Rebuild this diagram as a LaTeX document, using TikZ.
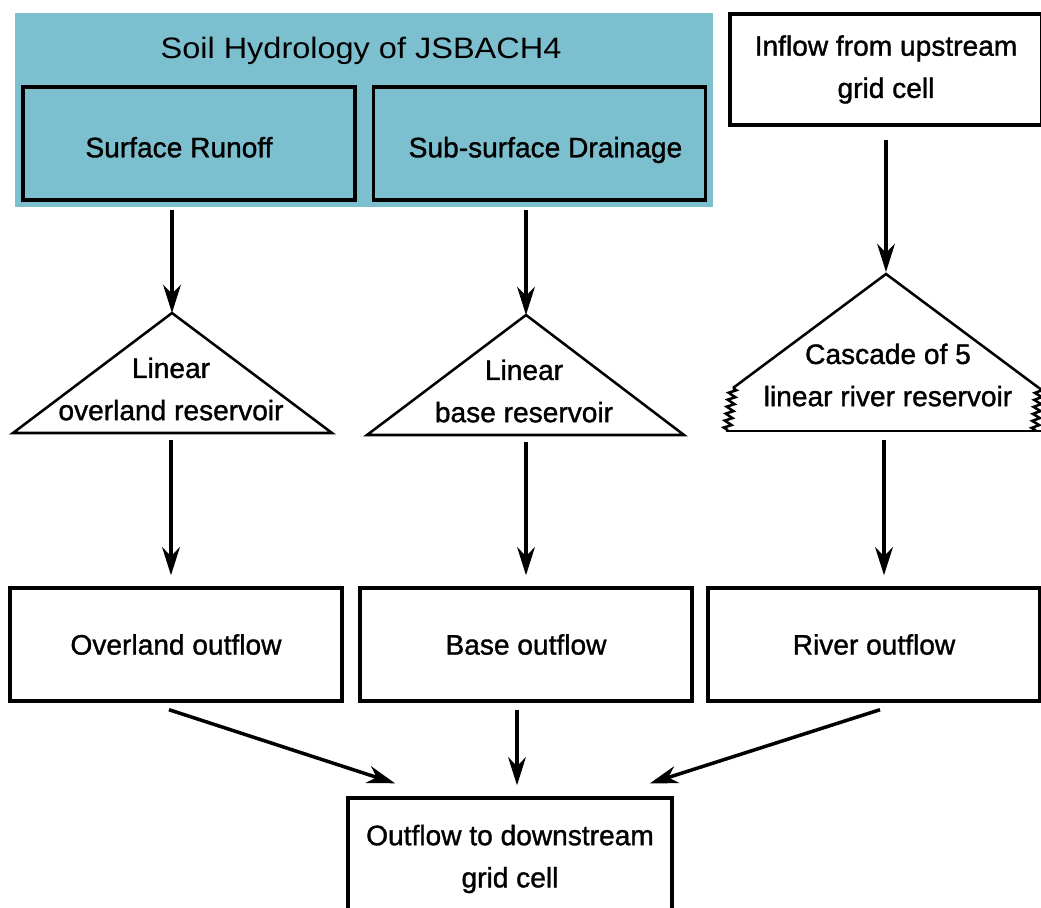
\documentclass[tikz,border=0pt]{standalone}
\usepackage{fontspec}
\setmainfont{Liberation Sans}
\newfontfamily\labelfam{Liberation Sans}[FakeBold=1.2]
\usetikzlibrary{arrows.meta,decorations.pathmorphing}

\definecolor{soilblue}{RGB}{124,191,207}
\newcommand{\labelfont}{\labelfam\fontsize{20}{30}\selectfont}
\newcommand{\titlefont}{\fontsize{21}{26}\selectfont}
\newcommand{\lowered}[1]{\raisebox{-0.09cm}[\height][0pt]{#1}}

\begin{document}
\begin{tikzpicture}[x=0.025cm, y=-0.025cm,
    box/.style={draw, line width=2.4pt, inner sep=0pt, minimum width=8.3cm,
      minimum height=2.825cm, align=center, font=\labelfont},
    soilbox/.style={box, fill=soilblue},
    tri/.style={line width=1.8pt, line join=miter},
    lbl/.style={align=center, font=\labelfont, inner sep=0pt},
    arr/.style={line width=2.5pt, -{Stealth[length=0.7cm, width=0.44cm, inset=0.22cm]}}]
  \useasboundingbox (0,0) rectangle (1041,908);

  % soil hydrology block
  \fill[soilblue] (15,13) rectangle (713,207);
  \node[font=\titlefont, anchor=base, inner sep=0pt] (title) at (361,58)
    {\scalebox{1.1}[1]{Soil Hydrology of JSBACH4}};
  \node[soilbox] (surf) at (189,143.5) {\lowered{Surface Runoff}\hspace*{0.5cm}};
  \node[soilbox] (subsurf) at (539.5,143.5) {\hspace*{0.3cm}\lowered{Sub-surface Drainage}};

  \node[box, minimum width=7.8cm, minimum height=2.775cm] (inflow) at (886,69.5)
    {Inflow from upstream\\grid cell};

  % reservoirs
  \coordinate (overtop) at (172,313);
  \coordinate (overbase) at (171,433);
  \draw[tri] (13,433) -- (overtop) -- (332,433) -- cycle;
  \node[lbl] (overres) at (171,389) {Linear\\overland reservoir};

  \coordinate (basetop) at (526,315);
  \coordinate (basebase) at (526,435);
  \draw[tri] (367,435) -- (basetop) -- (684,435) -- cycle;
  \node[lbl] (baseres) at (524,391) {Linear\\base reservoir};

  \coordinate (castop) at (886,274);
  \coordinate (casbase) at (884,431);
  \draw[tri] (733,388) -- (castop) -- (1039,388);
  \draw[tri] (726,431) -- (1041,431);
  \draw[tri, decorate, decoration={zigzag, segment length=5pt, amplitude=2.6pt}]
    (733,388) -- (727,431);
  \draw[tri, decorate, decoration={zigzag, segment length=5pt, amplitude=2.6pt}]
    (1039,388) -- (1035,431);
  \node[lbl] (casres) at (888,375) {Cascade of 5\\linear river reservoir};

  % outflows
  \node[box] (overout) at (176,644.5) {Overland outflow};
  \node[box] (baseout) at (526,644.5) {Base outflow};
  \node[box] (riverout) at (874,644.5) {River outflow};
  \node[box, minimum width=8.1cm, minimum height=3.05cm] (down) at (510,859)
    {Outflow to downstream\\grid cell};

  % connectors
  \draw[arr, shorten <=0.2cm] (surf.south -| overtop) -- (overtop);
  \draw[arr, shorten <=0.2cm] (subsurf.south -| basetop) -- (basetop);
  \draw[arr, shorten <=0.325cm, shorten >=0.05cm] (inflow.south -| castop) -- (castop);
  \draw[arr, shorten <=0.175cm, shorten >=0.275cm] (overbase) -- (overbase |- overout.north);
  \draw[arr, shorten <=0.175cm, shorten >=0.275cm] (basebase) -- (basebase |- baseout.north);
  \draw[arr, shorten <=0.225cm, shorten >=0.275cm] (casbase) -- (casbase |- riverout.north);
  \draw[arr] ([shift={(-7,7)}]overout.south) -- ([shift={(-115,-13)}]down.north);
  \draw[arr] ([shift={(-9,7)}]baseout.south) -- ([shift={(7,-11)}]down.north);
  \draw[arr] ([shift={(6,7)}]riverout.south) -- ([shift={(140,-13)}]down.north);
\end{tikzpicture}
\end{document}
